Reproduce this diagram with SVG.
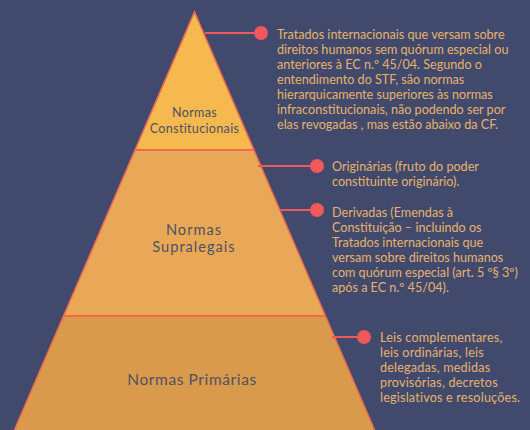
<svg xmlns="http://www.w3.org/2000/svg" width="530" height="430" viewBox="0 0 530 430">
<style>
.t{font-family:Lato,"Open Sans",sans-serif;font-size:12.6px;fill:#e6b26b}
.lbl{font-family:Lato,"Open Sans",sans-serif;fill:#4f5163;text-anchor:middle}
.c{stroke:#f0585c;stroke-width:2;fill:none}
.dot{fill:#f0585c}
.div{stroke:#f06a50;stroke-width:2}
</style>
<rect width="530" height="430" fill="#414a6d"/>
<g id="pyramid">
<polygon points="194.5,12 253.9,150 135.1,150" fill="#f6b94f"/>
<polygon points="135.1,150 253.9,150 325.4,316 63.6,316" fill="#e8a858"/>
<polygon points="63.6,316 325.4,316 375,431 14,431" fill="#da9a4c"/>
<polyline points="14,431 194.5,12 375,431" fill="none" stroke="#f26a4e" stroke-width="1.5"/>
<line class="div" x1="135.1" y1="150" x2="253.9" y2="150"/>
<line class="div" x1="63.6" y1="316" x2="325.4" y2="316"/>
</g>
<g id="node-constitucionais">
<text class="lbl" x="194.5" y="117" font-size="12.6" letter-spacing="0.3">Normas</text>
<text class="lbl" x="194.5" y="133" font-size="12.6" letter-spacing="0.3">Constitucionais</text>
</g>
<g id="node-supralegais">
<text class="lbl" x="194" y="235" font-size="14.6" letter-spacing="1">Normas</text>
<text class="lbl" x="194" y="252" font-size="14.6" letter-spacing="1">Supralegais</text>
</g>
<g id="node-primarias">
<text class="lbl" x="192" y="385" font-size="15.5" letter-spacing="0.6">Normas Primárias</text>
</g>
<g id="connectors">
<line class="c" x1="205" y1="33" x2="260" y2="33"/>
<circle class="dot" cx="261" cy="33" r="7"/>
<line class="c" x1="258" y1="166" x2="316" y2="166"/>
<circle class="dot" cx="317" cy="166" r="7"/>
<line class="c" x1="280" y1="210" x2="316" y2="210"/>
<circle class="dot" cx="317" cy="210" r="7"/>
<line class="c" x1="332" y1="337" x2="363" y2="337"/>
<circle class="dot" cx="364" cy="337" r="7"/>
</g>
<g id="note-tratados">
<text class="t" x="277" y="39">Tratados internacionais que versam sobre</text>
<text class="t" x="277" y="54">direitos humanos sem quórum especial ou</text>
<text class="t" x="277" y="69">anteriores à EC n.º 45/04. Segundo o</text>
<text class="t" x="277" y="84">entendimento do STF, são normas</text>
<text class="t" x="277" y="99">hierarquicamente superiores às normas</text>
<text class="t" x="277" y="114">infraconstitucionais, não podendo ser por</text>
<text class="t" x="277" y="129">elas revogadas , mas estão abaixo da CF.</text>
</g>
<g id="note-originarias">
<text class="t" x="332" y="171">Originárias (fruto do poder</text>
<text class="t" x="332" y="186">constituinte originário).</text>
</g>
<g id="note-derivadas">
<text class="t" x="332" y="217">Derivadas (Emendas à</text>
<text class="t" x="332" y="232">Constituição – incluindo os</text>
<text class="t" x="332" y="247">Tratados internacionais que</text>
<text class="t" x="332" y="262">versam sobre direitos humanos</text>
<text class="t" x="332" y="277">com quórum especial  (art. 5 º§ 3º)</text>
<text class="t" x="332" y="292">após a EC n.º 45/04).</text>
</g>
<g id="note-primarias">
<text class="t" x="380" y="342" letter-spacing="0.2">Leis complementares,</text>
<text class="t" x="380" y="357" letter-spacing="0.2">leis ordinárias, leis</text>
<text class="t" x="380" y="372" letter-spacing="0.2">delegadas, medidas</text>
<text class="t" x="380" y="387" letter-spacing="0.2">provisórias, decretos</text>
<text class="t" x="380" y="402" letter-spacing="0.2">legislativos e resoluções.</text>
</g>
</svg>
